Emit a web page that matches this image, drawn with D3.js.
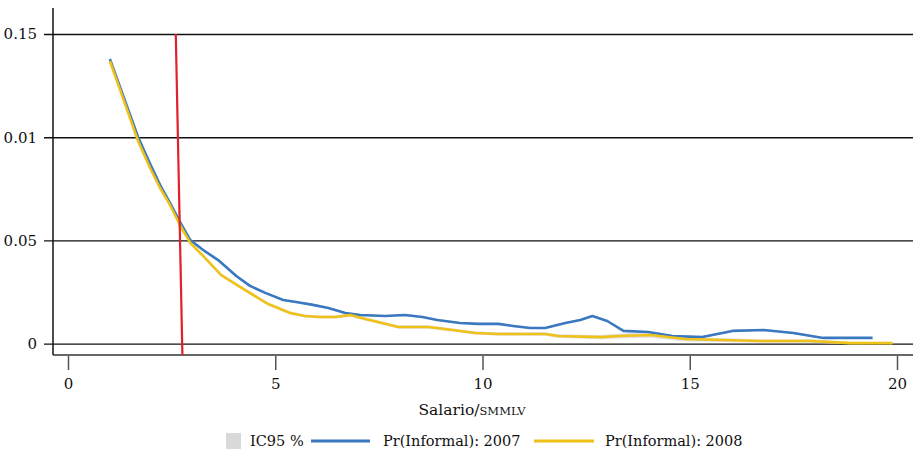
<!DOCTYPE html>
<html>
<head>
<meta charset="utf-8">
<script src="https://cdn.jsdelivr.net/npm/d3@7/dist/d3.min.js"></script>
<style>
  html, body { margin: 0; padding: 0; background: #fff; }
  svg { display: block; font-family: "DejaVu Serif", serif; }
</style>
</head>
<body>
<svg id="chart" width="913" height="453"></svg>
<script>
// Salary in multiples of the minimum wage (SMMLV)
const salario2007 = [1.01, 1.35, 1.69, 1.98, 2.22, 2.46, 2.70, 2.95, 3.26, 3.65, 4.06, 4.39, 4.76, 5.19, 5.50, 5.91, 6.28, 6.69, 7.05, 7.65, 8.13, 8.55, 8.91, 9.46, 9.90, 10.38, 10.74, 11.15, 11.51, 12.00, 12.36, 12.65, 13.01, 13.40, 14.00, 14.58, 15.30, 16.03, 16.78, 17.50, 18.22, 18.80, 19.41];
const informal2007 = [0.1379, 0.1190, 0.1001, 0.0871, 0.0769, 0.0682, 0.0590, 0.0502, 0.0454, 0.0401, 0.0328, 0.0280, 0.0246, 0.0212, 0.0202, 0.0188, 0.0173, 0.0149, 0.0139, 0.0134, 0.0139, 0.0129, 0.0115, 0.0100, 0.0096, 0.0096, 0.0086, 0.0076, 0.0076, 0.0100, 0.0115, 0.0134, 0.0110, 0.0062, 0.0057, 0.0037, 0.0032, 0.0062, 0.0066, 0.0052, 0.0028, 0.0028, 0.0028];
const ci2007 = [0.0012, 0.0010, 0.0009, 0.0008, 0.0008, 0.0007, 0.0007, 0.0006, 0.0006, 0.0006, 0.0005, 0.0005, 0.0005, 0.0005, 0.0005, 0.0005, 0.0005, 0.0005, 0.0005, 0.0005, 0.0005, 0.0005, 0.0005, 0.0005, 0.0005, 0.0005, 0.0005, 0.0005, 0.0005, 0.0005, 0.0005, 0.0005, 0.0005, 0.0005, 0.0005, 0.0005, 0.0005, 0.0005, 0.0005, 0.0005, 0.0005, 0.0005, 0.0005];

const salario2008 = [1.01, 1.35, 1.69, 1.98, 2.22, 2.46, 2.70, 2.95, 3.26, 3.69, 4.15, 4.83, 5.36, 5.72, 6.08, 6.45, 6.81, 7.17, 7.58, 7.97, 8.69, 9.10, 9.82, 10.38, 10.91, 11.51, 11.83, 12.84, 13.32, 14.05, 14.89, 15.74, 16.70, 17.91, 18.88, 19.89];
const informal2008 = [0.1369, 0.1176, 0.0982, 0.0851, 0.0754, 0.0672, 0.0575, 0.0488, 0.0425, 0.0333, 0.0275, 0.0192, 0.0149, 0.0134, 0.0129, 0.0129, 0.0139, 0.0120, 0.0100, 0.0081, 0.0081, 0.0071, 0.0052, 0.0047, 0.0047, 0.0047, 0.0037, 0.0032, 0.0037, 0.0042, 0.0023, 0.0018, 0.0013, 0.0013, 0.0003, 0.0003];
const ci2008 = [0.0012, 0.0010, 0.0009, 0.0008, 0.0008, 0.0007, 0.0007, 0.0007, 0.0007, 0.0007, 0.0007, 0.0007, 0.0007, 0.0007, 0.0007, 0.0007, 0.0008, 0.0008, 0.0008, 0.0008, 0.0008, 0.0008, 0.0008, 0.0008, 0.0008, 0.0008, 0.0009, 0.0010, 0.0012, 0.0013, 0.0012, 0.0010, 0.0009, 0.0008, 0.0006, 0.0005];

// Vertical reference line (minimum-wage threshold), slightly slanted
const refLineX = [2.60, 2.76];
const refLineY = [0.15, -0.0055];

const yTicks = [0, 0.05, 0.10, 0.15];
const yTickLabels = ["0", "0.05", "0.01", "0.15"];
const xTicks = [0, 5, 10, 15, 20];

const legendLabels = ["IC95 %", "Pr(Informal): 2007", "Pr(Informal): 2008"];

const colBlue = "#3a78c0";
const colYellow = "#efc21a";
const colRed = "#e0202a";
const colBand = "#d9d9d9";

const svg = d3.select("#chart");

const frameLeft = 53, frameRight = 913, frameTop = 8, frameBottom = 355;

const x = d3.scaleLinear().domain([0, 20]).range([68, 897]);
const y = d3.scaleLinear().domain([0, 0.15]).range([343.7, 34]);

// Horizontal gridlines with left tick marks
const yAxis = d3.axisLeft(y)
  .tickValues(yTicks)
  .tickFormat((d, i) => yTickLabels[i])
  .tickSize(-(frameRight - 44))
  .tickPadding(6);

const gy = svg.append("g")
  .attr("transform", `translate(${frameRight},0)`)
  .call(yAxis);
gy.select(".domain").remove();
gy.selectAll(".tick line")
  .attr("x1", 0).attr("x2", -(frameRight - 44))
  .attr("stroke", "#111").attr("stroke-width", 1.3);
gy.selectAll(".tick text")
  .attr("x", -(frameRight - 37))
  .attr("text-anchor", "end")
  .attr("font-family", "DejaVu Serif")
  .attr("font-size", 15)
  .attr("fill", "#111");

// Frame: left and bottom
svg.append("line")
  .attr("x1", frameLeft).attr("x2", frameLeft)
  .attr("y1", frameTop).attr("y2", frameBottom)
  .attr("stroke", "#111").attr("stroke-width", 1.5);
svg.append("line")
  .attr("x1", frameLeft).attr("x2", frameRight)
  .attr("y1", frameBottom).attr("y2", frameBottom)
  .attr("stroke", "#333").attr("stroke-width", 1.5);

// X axis
const xAxis = d3.axisBottom(x).tickValues(xTicks).tickSize(14).tickPadding(8).tickFormat(d3.format("d"));
const gx = svg.append("g")
  .attr("transform", `translate(0,${frameBottom + 1})`)
  .call(xAxis);
gx.select(".domain").remove();
gx.selectAll(".tick line").attr("stroke", "#555").attr("stroke-width", 1.5);
gx.selectAll(".tick text")
  .attr("font-family", "DejaVu Serif")
  .attr("font-size", 15)
  .attr("fill", "#111");

// Axis title with small-caps unit
const title = svg.append("text")
  .attr("x", 472).attr("y", 415)
  .attr("text-anchor", "middle")
  .attr("font-family", "DejaVu Serif")
  .attr("font-size", 15.5)
  .attr("fill", "#111");
title.append("tspan").text("Salario/");
title.append("tspan").attr("font-size", 11.5).text("SMMLV");

// Confidence bands
const area = d3.area()
  .x(d => x(d[0]))
  .y0(d => y(d[1] - d[2]))
  .y1(d => y(d[1] + d[2]));

const band2007 = salario2007.map((s, i) => [s, informal2007[i], ci2007[i]]);
const band2008 = salario2008.map((s, i) => [s, informal2008[i], ci2008[i]]);

svg.append("path").datum(band2007).attr("d", area).attr("fill", colBand).attr("opacity", 0.8);
svg.append("path").datum(band2008).attr("d", area).attr("fill", colBand).attr("opacity", 0.8);

// Estimated probability lines
const line = d3.line().x(d => x(d[0])).y(d => y(d[1]));

svg.append("path")
  .datum(salario2007.map((s, i) => [s, informal2007[i]]))
  .attr("d", line)
  .attr("fill", "none").attr("stroke", colBlue).attr("stroke-width", 2.6)
  .attr("stroke-linejoin", "round");

svg.append("path")
  .datum(salario2008.map((s, i) => [s, informal2008[i]]))
  .attr("d", line)
  .attr("fill", "none").attr("stroke", colYellow).attr("stroke-width", 2.6)
  .attr("stroke-linejoin", "round");

// Threshold line
svg.append("line")
  .attr("x1", x(refLineX[0])).attr("y1", y(refLineY[0]))
  .attr("x2", x(refLineX[1])).attr("y2", y(refLineY[1]))
  .attr("stroke", colRed).attr("stroke-width", 2.2);

// Legend
const lg = svg.append("g").attr("font-family", "DejaVu Serif").attr("font-size", 14.5).attr("fill", "#111");
lg.append("rect").attr("x", 226).attr("y", 433).attr("width", 15).attr("height", 16).attr("fill", colBand);
lg.append("text").attr("x", 250).attr("y", 446).text(legendLabels[0]);
lg.append("line").attr("x1", 311).attr("x2", 370).attr("y1", 441).attr("y2", 441)
  .attr("stroke", colBlue).attr("stroke-width", 2.8);
lg.append("text").attr("x", 383).attr("y", 446).text(legendLabels[1]);
lg.append("line").attr("x1", 534).attr("x2", 594).attr("y1", 441).attr("y2", 441)
  .attr("stroke", colYellow).attr("stroke-width", 2.8);
lg.append("text").attr("x", 605).attr("y", 446).text(legendLabels[2]);
</script>
</body>
</html>
